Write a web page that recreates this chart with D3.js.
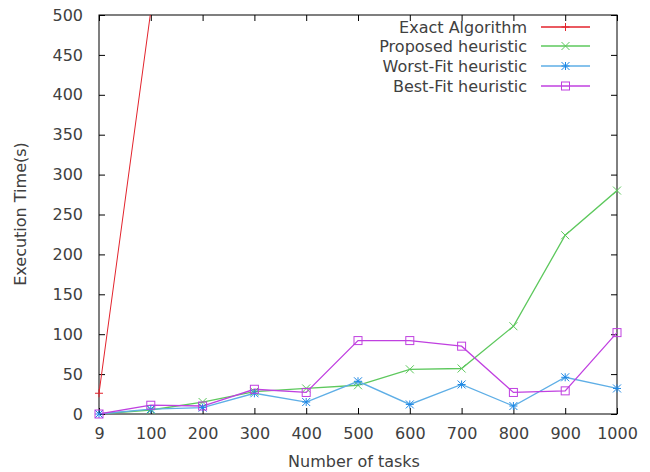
<!DOCTYPE html>
<html><head><meta charset="utf-8">
<script src="https://cdn.jsdelivr.net/npm/d3@7"></script>
<style>
body{margin:0;background:#fff;}
text{font-family:"DejaVu Sans",sans-serif;fill:#404040;}
</style></head>
<body><svg id="c" width="650" height="472"></svg>
<script>
const categories = ["9","100","200","300","400","500","600","700","800","900","1000"];
const exactAlgorithm = [26, 505, null, null, null, null, null, null, null, null, null];
const proposedHeuristic = [0, 5, 15, 28, 32, 36, 56, 57, 110, 224, 280];
const worstFitHeuristic = [0, 6, 8, 26, 15, 41, 12, 37, 10, 46, 32];
const bestFitHeuristic = [0, 11, 10, 31, 27, 92, 92, 85, 27, 29, 102];
const yTicks = [0,50,100,150,200,250,300,350,400,450,500];
const seriesNames = ["Exact Algorithm","Proposed heuristic","Worst-Fit heuristic","Best-Fit heuristic"];

const colors = ["#e3232c","#5dc85d","#5eaee6","#c040e0"];
const markers = ["plus","x","star","square"];
const series = [exactAlgorithm, proposedHeuristic, worstFitHeuristic, bestFitHeuristic];
const FS = "16px";

const L=99, R=617, T=15, B=414;
const svg = d3.select("#c");
const x = d3.scalePoint().domain(categories).range([L,R]);
const y = d3.scaleLinear().domain([0,500]).range([B,T]);

svg.append("defs").append("clipPath").attr("id","clip")
  .append("rect").attr("x",L).attr("y",T).attr("width",R-L).attr("height",B-T);

const tl = 6;
const gL = svg.append("g").attr("transform",`translate(${L},0)`)
  .call(d3.axisLeft(y).tickValues(yTicks).tickSize(-tl).tickPadding(16));
const gR = svg.append("g").attr("transform",`translate(${R},0)`)
  .call(d3.axisRight(y).tickValues(yTicks).tickSize(-tl).tickFormat(""));
const gB = svg.append("g").attr("transform",`translate(0,${B})`)
  .call(d3.axisBottom(x).tickSize(-tl).tickPadding(14));
const gT = svg.append("g").attr("transform",`translate(0,${T})`)
  .call(d3.axisTop(x).tickSize(-tl).tickFormat(""));
[gL,gR,gB,gT].forEach(g=>{
  g.select(".domain").remove();
  g.selectAll(".tick line").attr("stroke","#000").attr("stroke-width",1);
  g.selectAll("text").style("font-size",FS).attr("fill","#404040");
});
svg.append("rect").attr("x",L).attr("y",T).attr("width",R-L).attr("height",B-T)
  .attr("fill","none").attr("stroke","#000").attr("stroke-width",1);

function marker(g, type, cx, cy, color){
  const s=4;
  if(type==="plus"){
    g.append("path").attr("d",`M${cx-s},${cy}H${cx+s}M${cx},${cy-s}V${cy+s}`).attr("stroke",color).attr("fill","none");
  } else if(type==="x"){
    g.append("path").attr("d",`M${cx-s},${cy-s}L${cx+s},${cy+s}M${cx-s},${cy+s}L${cx+s},${cy-s}`).attr("stroke",color).attr("fill","none");
  } else if(type==="star"){
    g.append("path").attr("d",`M${cx-s},${cy}H${cx+s}M${cx},${cy-s}V${cy+s}M${cx-s},${cy-s}L${cx+s},${cy+s}M${cx-s},${cy+s}L${cx+s},${cy-s}`).attr("stroke","#1e88e5").attr("fill","none");
  } else {
    g.append("rect").attr("x",cx-s).attr("y",cy-s).attr("width",2*s).attr("height",2*s).attr("stroke",color).attr("fill","none");
  }
}

const plot = svg.append("g").attr("clip-path","url(#clip)");
const mks = svg.append("g");
const line = d3.line().defined(d=>d.v!=null).x(d=>x(d.c)).y(d=>y(d.v));
series.forEach((vals,i)=>{
  const data = categories.map((c,j)=>({c, v: vals[j]}));
  plot.append("path").datum(data).attr("d",line).attr("fill","none")
    .attr("stroke",colors[i]).attr("stroke-width",i===0?1:1.3);
  data.filter(d=>d.v!=null && d.v<=500).forEach(d=>marker(mks, markers[i], x(d.c), y(d.v), colors[i]));
});

const legY = [27,46,66,86];
seriesNames.forEach((n,i)=>{
  svg.append("text").attr("x",527).attr("y",legY[i]).attr("dy","0.35em")
    .attr("text-anchor","end").style("font-size",FS).text(n);
  svg.append("line").attr("x1",541).attr("x2",590).attr("y1",legY[i]).attr("y2",legY[i])
    .attr("stroke",colors[i]).attr("stroke-width",1.3);
  marker(svg, markers[i], 565.5, legY[i], colors[i]);
});

svg.append("text").attr("x",354).attr("y",461).attr("dy","0.35em").attr("text-anchor","middle")
  .style("font-size",FS).text("Number of tasks");
svg.append("text").attr("transform","translate(20,214) rotate(-90)").attr("dy","0.35em")
  .attr("text-anchor","middle").style("font-size",FS).text("Execution Time(s)");
</script></body></html>
